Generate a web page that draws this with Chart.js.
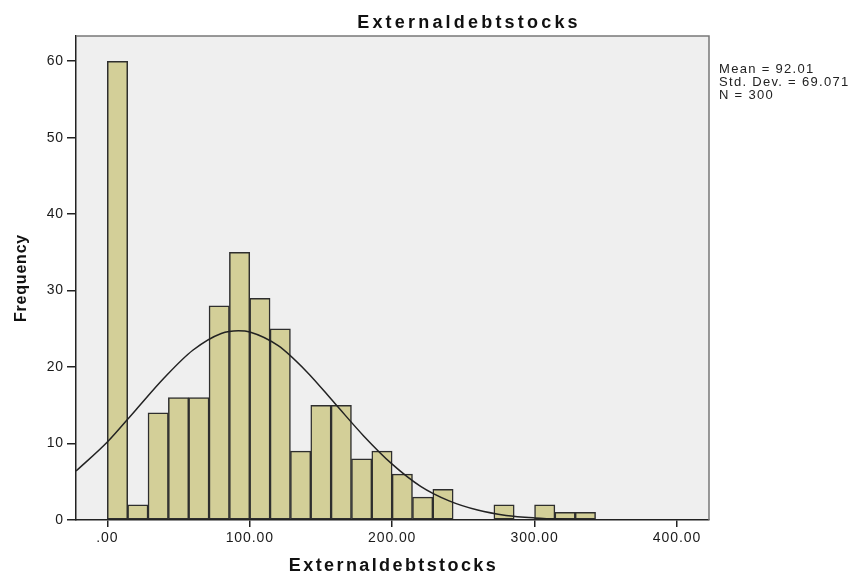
<!DOCTYPE html>
<html>
<head>
<meta charset="utf-8">
<script src="https://cdn.jsdelivr.net/npm/chart.js@4"></script>
<style>
  html, body { margin: 0; padding: 0; background: #fff; }
  #wrap { width: 855px; height: 575px; }
</style>
</head>
<body>
<div id="wrap"><canvas id="myChart" width="855" height="575"></canvas></div>
<script>
// histogram bins (start of each bin) and counts
const binWidth = 14.286;
const binStarts = [0, 14.286, 28.571, 42.857, 57.143, 71.429, 85.714, 100, 114.286, 128.571, 142.857, 157.143,
                   171.429, 185.714, 200, 214.286, 228.571, 242.857, 257.143, 271.429, 285.714, 300, 314.286, 328.571];
const counts = [60, 2, 14, 16, 16, 28, 35, 29, 25, 9, 15, 15, 8, 9, 6, 3, 4, 0, 0, 2, 0, 2, 1, 1];

// normal curve
const curveX = [-22, 0, 20, 40, 60, 80, 92, 100, 120, 140, 160, 180, 200, 220, 240, 260, 280, 300, 320, 340, 360, 380, 400, 422];
const curveY = [6.4, 10.2, 14.4, 18.6, 22.2, 24.4, 24.75, 24.6, 22.8, 19.4, 15.2, 11.0, 7.3, 4.4, 2.5, 1.3, 0.6, 0.27, 0.11, 0.04, 0.01, 0, 0, 0];

const xTicks = [0, 100, 200, 300, 400];
const xTickLabels = ['.00', '100.00', '200.00', '300.00', '400.00'];
const yTicks = [0, 10, 20, 30, 40, 50, 60];

const chartTitle = 'Externaldebtstocks';
const xTitle = 'Externaldebtstocks';
const yTitle = 'Frequency';
const statsLines = ['Mean = 92.01', 'Std. Dev. = 69.071', 'N = 300'];

const FONT = '"Liberation Sans", Arial, sans-serif';

const barData = binStarts.map((s, i) => ({ x: s + binWidth / 2, y: counts[i] > 0 ? counts[i] : null }));
const lineData = curveX.map((x, i) => ({ x: x, y: curveY[i] }));

const decorations = {
    id: 'decorations',
    beforeDraw(chart) {
        const ctx = chart.ctx;
        const a = chart.chartArea;
        ctx.save();
        ctx.fillStyle = '#fff';
        ctx.fillRect(0, 0, chart.width, chart.height);
        ctx.fillStyle = '#efefef';
        ctx.fillRect(a.left, a.top, a.right - a.left, a.bottom - a.top);
        ctx.restore();
        ctx.letterSpacing = '0.9px';
    },
    afterDraw(chart) {
        const ctx = chart.ctx;
        const a = chart.chartArea;
        ctx.save();
        // top and right frame
        ctx.strokeStyle = '#787878';
        ctx.lineWidth = 1.5;
        ctx.beginPath();
        ctx.moveTo(a.left, a.top);
        ctx.lineTo(a.right, a.top);
        ctx.lineTo(a.right, a.bottom);
        ctx.stroke();

        ctx.fillStyle = '#111';
        ctx.textBaseline = 'alphabetic';

        // title
        ctx.font = 'bold 18px ' + FONT;
        ctx.letterSpacing = '3.2px';
        ctx.textAlign = 'center';
        ctx.fillText(chartTitle, 469, 28);

        // x title
        ctx.letterSpacing = '2.4px';
        ctx.fillText(xTitle, (a.left + a.right) / 2 + 1, 571);

        // y title
        ctx.save();
        ctx.translate(26, (a.top + a.bottom) / 2);
        ctx.rotate(-Math.PI / 2);
        ctx.font = 'bold 16px ' + FONT;
        ctx.letterSpacing = '0.8px';
        ctx.fillText(yTitle, 0, 0);
        ctx.restore();

        // stats
        ctx.font = '13px ' + FONT;
        ctx.letterSpacing = '1.3px';
        ctx.textAlign = 'left';
        ctx.fillStyle = '#222';
        statsLines.forEach((t, i) => ctx.fillText(t, 719, 73 + i * 13));
        ctx.restore();
    }
};

new Chart(document.getElementById('myChart').getContext('2d'), {
    type: 'bar',
    data: {
        datasets: [
            {
                type: 'line',
                data: lineData,
                borderColor: '#222',
                borderWidth: 1.5,
                pointRadius: 0,
                cubicInterpolationMode: 'monotone',
                fill: false,
                order: 0
            },
            {
                type: 'bar',
                data: barData,
                backgroundColor: '#d3cf98',
                borderColor: '#2e2e2e',
                borderWidth: 1.5,
                borderSkipped: false,
                barPercentage: 1,
                categoryPercentage: 1,
                grouped: false,
                order: 1
            }
        ]
    },
    options: {
        responsive: false,
        animation: false,
        devicePixelRatio: 1,
        layout: { padding: { left: 0, top: 36, right: 146, bottom: 0 } },
        plugins: {
            legend: { display: false },
            tooltip: { enabled: false },
            title: { display: false }
        },
        scales: {
            x: {
                type: 'linear',
                offset: false,
                min: -22,
                max: 422.5,
                afterBuildTicks: (scale) => { scale.ticks = xTicks.map(v => ({ value: v })); },
                afterFit: (scale) => { scale.height = 55; },
                ticks: {
                    callback: (v) => xTickLabels[xTicks.indexOf(v)],
                    font: { family: FONT, size: 14 },
                    color: '#1a1a1a',
                    padding: 3,
                    maxRotation: 0
                },
                grid: { offset: false, drawOnChartArea: false, drawTicks: true, tickLength: 7, color: '#222', lineWidth: 1.5 },
                border: { display: true, color: '#222', width: 1.5 }
            },
            y: {
                min: 0,
                max: 63.3,
                afterBuildTicks: (scale) => { scale.ticks = yTicks.map(v => ({ value: v })); },
                afterFit: (scale) => { scale.width = 76; },
                ticks: {
                    font: { family: FONT, size: 14 },
                    color: '#1a1a1a',
                    padding: 3
                },
                grid: { drawOnChartArea: false, drawTicks: true, tickLength: 9, color: '#222', lineWidth: 1.5 },
                border: { display: true, color: '#222', width: 1.5 }
            }
        }
    },
    plugins: [decorations]
});
</script>
</body>
</html>
